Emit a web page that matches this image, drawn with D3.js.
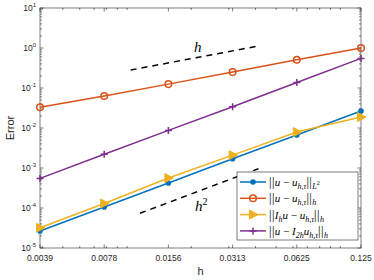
<!DOCTYPE html>
<html>
<head>
<meta charset="utf-8">
<script src="https://cdn.jsdelivr.net/npm/d3@7"></script>
<style>
 body { margin:0; background:#fff; }
 text { font-family: "Liberation Sans", Arial, sans-serif; }
 .math { font-family: "Liberation Serif", "Times New Roman", serif; }
</style>
</head>
<body>
<div id="chart"></div>
<script>
// mesh sizes (log2 spaced)
var hValues = [1/256, 1/128, 1/64, 1/32, 1/16, 1/8];
var hLabels = ["0.0039","0.0078","0.0156","0.0313","0.0625","0.125"];
// error series
var errL2  = [2.65e-5, 1.06e-4, 4.2e-4, 1.7e-3, 6.7e-3, 2.66e-2];
var errH   = [3.3e-2, 6.3e-2, 1.25e-1, 2.5e-1, 5.1e-1, 1.0];
var errIh  = [3.2e-5, 1.3e-4, 5.6e-4, 2.1e-3, 7.9e-3, 1.88e-2];
var errI2h = [5.5e-4, 2.2e-3, 8.7e-3, 3.4e-2, 1.37e-1, 5.5e-1];
var yTicks = [1e-5,1e-4,1e-3,1e-2,1e-1,1e0,1e1];
var yExp   = ["-5","-4","-3","-2","-1","0","1"];
// slope guides
var refH1  = [[0.0104, 0.282], [0.0413, 1.12]];
var refH2  = [[0.0115, 7.4e-5], [0.0413, 9.6e-4]];

var W = 374, H = 280;
var x0 = 40, x1 = 361, y0 = 8, y1 = 248;
var axisColor = "#262626";

var svg = d3.select("#chart").append("svg")
    .attr("width", W).attr("height", H);

var x = d3.scaleLog().domain([hValues[0], hValues[5]]).range([x0, x1]);
var y = d3.scaleLog().domain([1e-5, 1e1]).range([y1, y0]);

//minor ticks
var xMinor = [];
[1e-3,1e-2,1e-1].forEach(function(d){
  for (var k=1;k<10;k++){ var v=d*k; if (v>hValues[0]*1.001 && v<hValues[5]*0.999) xMinor.push(v); }
});
var yMinor = [];
[1e-5,1e-4,1e-3,1e-2,1e-1,1e0].forEach(function(d){
  for (var k=2;k<10;k++) yMinor.push(d*k);
});

var ax = svg.append("g").attr("stroke", axisColor).attr("stroke-width", 0.6);
// box
ax.append("rect").attr("x",x0).attr("y",y0).attr("width",x1-x0).attr("height",y1-y0)
  .attr("fill","none");
// x ticks, bottom and top
function xt(vals, len){
  vals.forEach(function(v){
    ax.append("line").attr("x1",x(v)).attr("x2",x(v)).attr("y1",y1).attr("y2",y1-len);
    ax.append("line").attr("x1",x(v)).attr("x2",x(v)).attr("y1",y0).attr("y2",y0+len);
  });
}
function yt(vals, len){
  vals.forEach(function(v){
    ax.append("line").attr("y1",y(v)).attr("y2",y(v)).attr("x1",x0).attr("x2",x0+len);
    ax.append("line").attr("y1",y(v)).attr("y2",y(v)).attr("x1",x1).attr("x2",x1-len);
  });
}
xt(hValues, 3.5); xt(xMinor, 2);
yt(yTicks, 3.5); yt(yMinor, 2);

// tick labels
svg.append("g").selectAll("text").data(hValues).enter().append("text")
  .attr("x", function(d){ return x(d); })
  .attr("y", y1 + 13)
  .attr("text-anchor","middle")
  .attr("font-size", 8.5)
  .attr("fill", axisColor)
  .text(function(d,i){ return hLabels[i]; });

var yl = svg.append("g").selectAll("text").data(yTicks).enter().append("text")
  .attr("x", x0 - 4)
  .attr("y", function(d){ return y(d) + 3; })
  .attr("text-anchor","end")
  .attr("font-size", 8.5)
  .attr("fill", axisColor);
yl.append("tspan").text("10");
yl.append("tspan").attr("font-size",6).attr("dy",-4).text(function(d,i){ return yExp[i]; });

svg.append("text").attr("x", (x0+x1)/2).attr("y", 275).attr("text-anchor","middle")
  .attr("font-size", 11).attr("fill", axisColor).text("h");
svg.append("text").attr("transform","translate(14," + ((y0+y1)/2) + ") rotate(-90)")
  .attr("text-anchor","middle").attr("font-size", 11).attr("fill", axisColor).text("Error");

// slope guides
var line = d3.line().x(function(d){ return x(d[0]); }).y(function(d){ return y(d[1]); });
[refH1, refH2].forEach(function(r){
  svg.append("path").attr("d", line(r)).attr("fill","none")
    .attr("stroke","#000").attr("stroke-width",1.5).attr("stroke-dasharray","6,5");
});
svg.append("text").attr("class","math").attr("x",194).attr("y",52)
  .attr("font-size",15).attr("font-style","italic").text("h");
var h2 = svg.append("text").attr("class","math").attr("x",195).attr("y",211)
  .attr("font-size",15).attr("font-style","italic");
h2.append("tspan").text("h");
h2.append("tspan").attr("font-style","normal").attr("font-size",10).attr("dy",-6).text("2");

// series
var series = [
  {vals: errL2,  color:"#0072BD", marker:"dot"},
  {vals: errH,   color:"#D95319", marker:"circle"},
  {vals: errIh,  color:"#EDB120", marker:"tri"},
  {vals: errI2h, color:"#7E2F8E", marker:"plus"}
];
var pl = d3.line().x(function(d,i){ return x(hValues[i]); }).y(function(d){ return y(d); });

function drawMarker(g, cx, cy, s){
  if (s.marker=="dot") {
    g.append("circle").attr("cx",cx).attr("cy",cy).attr("r",2.8).attr("fill",s.color);
  } else if (s.marker=="circle") {
    g.append("circle").attr("cx",cx).attr("cy",cy).attr("r",3.3).attr("fill","none")
     .attr("stroke",s.color).attr("stroke-width",1.5);
  } else if (s.marker=="tri") {
    g.append("path").attr("d","M"+(cx-3.5)+","+(cy-4.5)+" L"+(cx+5)+","+cy+" L"+(cx-3.5)+","+(cy+4.5)+"Z")
     .attr("fill",s.color).attr("stroke",s.color).attr("stroke-width",1);
  } else {
    g.append("path").attr("d","M"+(cx-3.5)+","+cy+" H"+(cx+3.5)+" M"+cx+","+(cy-3.5)+" V"+(cy+3.5))
     .attr("stroke",s.color).attr("stroke-width",1.5);
  }
}

series.forEach(function(s){
  var g = svg.append("g");
  g.append("path").attr("d", pl(s.vals)).attr("fill","none")
    .attr("stroke", s.color).attr("stroke-width", 1.5);
  s.vals.forEach(function(v,i){ drawMarker(g, x(hValues[i]), y(v), s); });
});

// legend
var legendLabels = [
  [["‖",0,0],["u",1,0],[" − ",0,0],["u",1,0],["h,τ",1,1],["‖",0,0],["L",1,1],["2",0,3]],
  [["‖",0,0],["u",1,0],[" − ",0,0],["u",1,0],["h,τ",1,1],["‖",0,0],["h",1,1]],
  [["‖",0,0],["I",1,0],["h",1,1],["u",1,0],[" − ",0,0],["u",1,0],["h,τ",1,1],["‖",0,0],["h",1,1]],
  [["‖",0,0],["u",1,0],[" − ",0,0],["I",1,0],["2h",1,1],["u",1,0],["h,τ",1,1],["‖",0,0],["h",1,1]]
];
var lx = 237, ly = 172, lw = 121, lh = 68, rowH = 16.3;
var lg = svg.append("g");
lg.append("rect").attr("x",lx).attr("y",ly).attr("width",lw).attr("height",lh)
  .attr("fill","#fff").attr("stroke",axisColor).attr("stroke-width",0.6);
series.forEach(function(s,i){
  var cy = ly + 10 + i*rowH;
  lg.append("line").attr("x1",lx+3).attr("x2",lx+29).attr("y1",cy).attr("y2",cy)
    .attr("stroke",s.color).attr("stroke-width",1.5);
  drawMarker(lg, lx+16, cy, s);
  var t = lg.append("text").attr("class","math").attr("x",lx+32).attr("y",cy+4)
    .attr("font-size",11).attr("fill","#000");
  var cur = 0;
  legendLabels[i].forEach(function(seg){
    // level: 0 normal, 1 subscript, 3 sup inside subscript
    var off = seg[2]==1 ? 3 : (seg[2]==3 ? -1 : 0);
    var txt = seg[0]=="‖" ? "||" : seg[0];
    var ts = t.append("tspan").attr("dy", off-cur).text(txt);
    if (seg[1]) ts.attr("font-style","italic");
    if (seg[0]=="‖") ts.attr("font-size",12.5).attr("letter-spacing",0.4);
    if (seg[2]==1) ts.attr("font-size",8);
    if (seg[2]==3) ts.attr("font-size",6);
    cur = off;
  });
});
</script>
</body>
</html>
